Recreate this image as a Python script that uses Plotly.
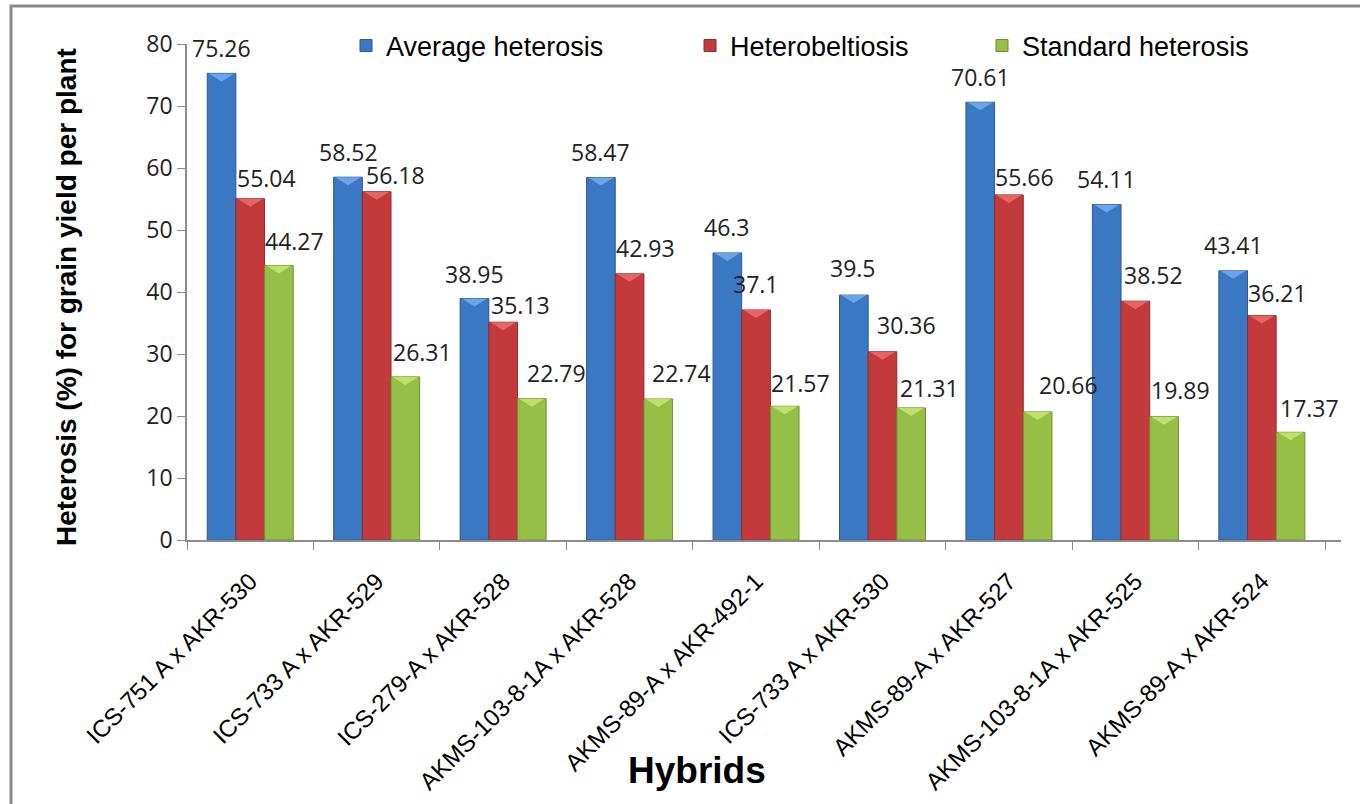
import plotly.graph_objects as go

# Hybrids and heterosis estimates (%) for grain yield per plant
hybrids = [
    "ICS-751 A x AKR-530",
    "ICS-733 A x AKR-529",
    "ICS-279-A x AKR-528",
    "AKMS-103-8-1A x AKR-528",
    "AKMS-89-A x AKR-492-1",
    "ICS-733 A x AKR-530",
    "AKMS-89-A x AKR-527",
    "AKMS-103-8-1A x AKR-525",
    "AKMS-89-A x AKR-524",
]
average_heterosis = [75.26, 58.52, 38.95, 58.47, 46.3, 39.5, 70.61, 54.11, 43.41]
heterobeltiosis = [55.04, 56.18, 35.13, 42.93, 37.1, 30.36, 55.66, 38.52, 36.21]
standard_heterosis = [44.27, 26.31, 22.79, 22.74, 21.57, 21.31, 20.66, 19.89, 17.37]

series_names = ["Average heterosis", "Heterobeltiosis", "Standard heterosis"]
series_values = [average_heterosis, heterobeltiosis, standard_heterosis]

# styling
fill_colors = ["#3B78C3", "#C23A3B", "#95BF47"]
edge_colors = ["#2B5A94", "#922A2B", "#6E8F33"]
cap_colors = ["#74ABEE", "#EE6B6B", "#C6E76E"]
legend_ids = ["legend", "legend2", "legend3"]
legend_x = [0.1378, 0.4359, 0.6889]

# label placement tweaks (pixels) for each value label
label_dx = [
    [0, 0, 0, 0, 0, -1, 0, 0, 0],
    [16, 19, 17, 16, 0, 24, 16, 18, 16],
    [16, 17, 25, 23, 16, 18, 31, 16, 19],
]
label_dy = [
    [25, 25, 25, 25, 26, 27, 25, 26, 26],
    [21, 17, 17, 26, 26, 27, 18, 26, 23],
    [25, 25, 26, 26, 23, 20, 27, 27, 24],
]

BARGAP = 0.32
bar_w = (1 - BARGAP) / 3
y_max = 80
plot_h_px = 496

LABEL_FONT = "Open Sans, Noto Sans, sans-serif"
TEXT_FONT = "Liberation Sans, Arial, sans-serif"

fig = go.Figure()
for k, (name, vals) in enumerate(zip(series_names, series_values)):
    fig.add_trace(go.Bar(
        name=name,
        x=hybrids,
        y=vals,
        marker=dict(color=fill_colors[k], line=dict(color=edge_colors[k], width=1)),
        legend=legend_ids[k],
        hoverinfo="x+y+name",
    ))

annotations = []
shapes = []
cap_h = 8 * y_max / plot_h_px
for k, vals in enumerate(series_values):
    off = (k - 1) * bar_w
    for i, v in enumerate(vals):
        xc = i + off
        # light bevel wedge at the top of each bar
        shapes.append(dict(
            type="path", xref="x", yref="y",
            path=(f"M {xc - bar_w / 2 + 0.012},{v} L {xc + bar_w / 2 - 0.012},{v} "
                  f"L {xc},{v - cap_h} Z"),
            fillcolor=cap_colors[k], line=dict(width=0), opacity=0.85, layer="above",
        ))
        annotations.append(dict(
            x=xc, y=v, xref="x", yref="y", text=f"{v:g}", showarrow=False,
            xanchor="center", yanchor="middle",
            xshift=label_dx[k][i], yshift=label_dy[k][i],
            font=dict(family=LABEL_FONT, size=23, color="#222222"),
        ))

# axis titles
annotations.append(dict(
    x=-0.1039, y=0.49, xref="paper", yref="paper", textangle=-90,
    text="<b>Heterosis (%) for grain yield per plant</b>", showarrow=False,
    xanchor="center", yanchor="middle",
    font=dict(family=TEXT_FONT, size=28, color="#000000"),
))
annotations.append(dict(
    x=0.442, y=-0.464, xref="paper", yref="paper",
    text="<b>Hybrids</b>", showarrow=False,
    xanchor="center", yanchor="middle",
    font=dict(family=TEXT_FONT, size=37, color="#000000"),
))

# chart frame
shapes.append(dict(
    type="rect", xref="paper", yref="paper",
    x0=-0.1525, x1=1.2, y0=-0.7, y1=1.0766,
    line=dict(color="#8A8A8A", width=3), fillcolor="rgba(0,0,0,0)", layer="below",
))

legend_common = dict(
    orientation="h", y=0.996, yanchor="middle", xanchor="left",
    font=dict(family=TEXT_FONT, size=27, color="#000000"),
    bgcolor="rgba(0,0,0,0)", borderwidth=0,
)
fig.update_layout(
    width=1360, height=804,
    margin=dict(l=187, r=19, t=44, b=264),
    paper_bgcolor="white", plot_bgcolor="white",
    barmode="group", bargap=BARGAP, bargroupgap=0,
    showlegend=True,
    legend=dict(x=legend_x[0], **legend_common),
    legend2=dict(x=legend_x[1], **legend_common),
    legend3=dict(x=legend_x[2], **legend_common),
    annotations=annotations,
    shapes=shapes,
    xaxis=dict(
        type="category", tickangle=-45, automargin=False,
        showline=True, linecolor="#8C8C8C", linewidth=1.5,
        ticks="outside", tickson="boundaries", ticklen=8, tickcolor="#8C8C8C",
        ticklabelstandoff=16,
        tickfont=dict(family=TEXT_FONT, size=24, color="#000000"),
        showgrid=False, zeroline=False,
    ),
    yaxis=dict(
        range=[0, y_max], dtick=10, tick0=0, automargin=False,
        showline=True, linecolor="#8C8C8C", linewidth=1.5,
        ticks="outside", ticklen=8, tickcolor="#8C8C8C",
        tickfont=dict(family=LABEL_FONT, size=23, color="#222222"),
        showgrid=False, zeroline=False,
    ),
)

fig.write_html("out.html")
